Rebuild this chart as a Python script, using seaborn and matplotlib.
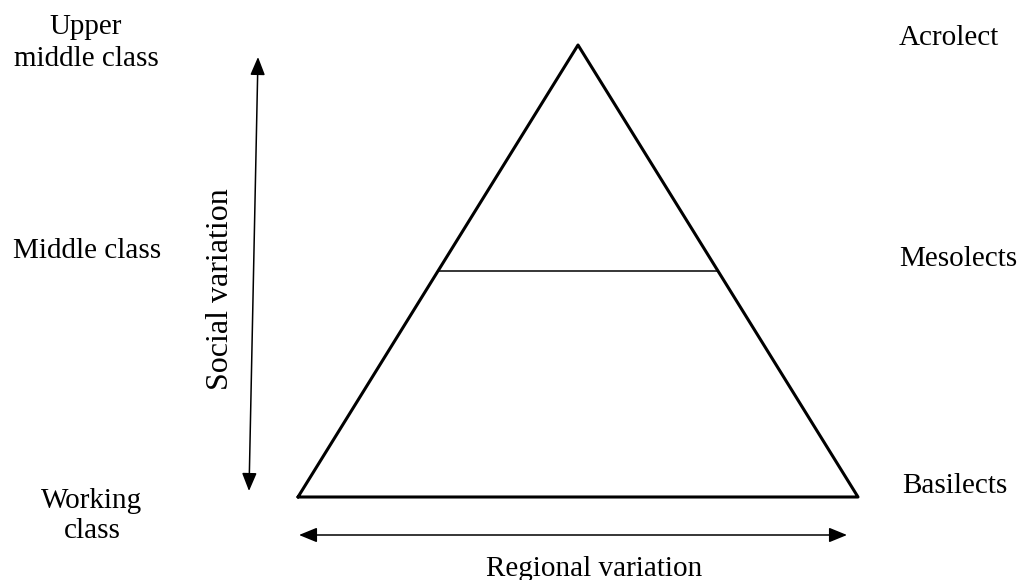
import seaborn as sns
import matplotlib.pyplot as plt
import pandas as pd

# Triangle outline (pixel coordinates of the diagram)
tri_x = [298, 578, 858, 298]
tri_y = [497, 45, 497, 497]

# Divider between acrolect and basilect zones
mid_x = [439, 717]
mid_y = [271, 271]

# Left labels (social classes) and right labels (lects)
class_labels = ["Upper\nmiddle class", "Middle class", "Working\nclass"]
class_x = [86, 87, 92]
class_y = [43, 251, 516]

lect_labels = ["Acrolect", "Mesolects", "Basilects"]
lect_x = [949, 958, 955]
lect_y = [38, 259, 486]

sns.set_style('white')
plt.rcParams['font.family'] = ['Liberation Serif', 'DejaVu Serif']
plt.rcParams['text.color'] = 'black'

fig = plt.figure(figsize=(10.19, 5.8), dpi=100)
ax = fig.add_axes([0, 0, 1, 1])

tri = pd.DataFrame({'x': tri_x, 'y': tri_y})
sns.lineplot(data=tri, x='x', y='y', sort=False, estimator=None, color='black', lw=2.2, ax=ax)
mid = pd.DataFrame({'x': mid_x, 'y': mid_y})
sns.lineplot(data=mid, x='x', y='y', sort=False, estimator=None, color='black', lw=1.1, ax=ax)

# arrows
arrow = dict(arrowstyle='<|-|>,head_length=1.1,head_width=0.45', color='black', lw=1.1, shrinkA=0, shrinkB=0)
ax.annotate('', xy=(258, 57), xytext=(249, 491), arrowprops=arrow)
ax.annotate('', xy=(299, 535), xytext=(847, 535), arrowprops=arrow)

fs = 21
for t, x, y in zip(class_labels, class_x, class_y):
    ax.text(x, y, t, ha='center', va='center', fontsize=fs, linespacing=1.25, color='black')
for t, x, y in zip(lect_labels, lect_x, lect_y):
    ax.text(x, y, t, ha='center', va='center', fontsize=fs, color='black')

ax.text(221, 289, 'Social variation', rotation=90, ha='center', va='center', fontsize=23, color='black')
ax.text(594, 569, 'Regional variation', ha='center', va='center', fontsize=fs, color='black')

ax.set_xlim(0, 1019)
ax.set_ylim(580, 0)
ax.axis('off')

fig.savefig('out.png', dpi=100)
